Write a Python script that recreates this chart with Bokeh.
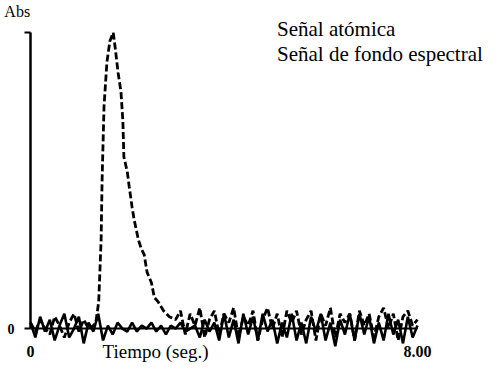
import numpy as np
from bokeh.plotting import figure
from bokeh.models import Label, Legend, LegendItem, FixedTicker, Range1d
from bokeh.embed import file_html
from bokeh.resources import INLINE

# ---- data ----
# atomic signal (Señal atómica): time (s) and absorbance (relative, peak = 1)
atom_t = [round(0.1 * i, 2) for i in range(0, 14)] + \
    [1.35, 1.41, 1.46, 1.48, 1.52, 1.58, 1.64, 1.71, 1.75, 1.81, 1.87, 1.91, 1.93,
     2.0, 2.04, 2.1, 2.14, 2.23, 2.29, 2.35, 2.41, 2.5, 2.56, 2.64, 2.75, 2.87, 3.0] + \
    [round(3.1 + 0.1 * i, 2) for i in range(0, 50)]
atom_v = [0.02, -0.01, 0.03, 0.00, -0.02, 0.04, 0.01, -0.03, 0.02, 0.05, -0.01, 0.03, 0.00, 0.01] + \
    [0.02, 0.09, 0.30, 0.50, 0.75, 0.90, 0.97, 1.00, 0.95, 0.865, 0.80, 0.70, 0.58,
     0.53, 0.48, 0.41, 0.37, 0.30, 0.27, 0.25, 0.19, 0.155, 0.105, 0.09, 0.06, 0.04, 0.03] + \
    [0.06, -0.02, 0.05, 0.01, 0.07, -0.03, 0.03, 0.06, -0.02, 0.05,
     0.02, 0.07, -0.03, 0.04, 0.01, 0.06, -0.04, 0.03, 0.07, 0.00,
     0.05, -0.03, 0.06, 0.02, 0.06, -0.02, 0.03, 0.06, -0.04, 0.05,
     0.01, 0.07, -0.03, 0.05, 0.02, 0.05, -0.04, 0.06, 0.01, 0.05,
     -0.03, 0.04, 0.07, 0.00, 0.05, -0.04, 0.04, 0.06, 0.01, 0.03]

# background signal (Señal de fondo espectral)
bg_t = [round(0.1 * i, 2) for i in range(0, 81)]
bg_v = [0.02, -0.03, 0.04, -0.01, 0.03, -0.04, 0.01, 0.05, -0.03, 0.00,
        0.04, -0.05, 0.02, -0.01, 0.05, -0.04, 0.01, -0.02, 0.02, 0.00,
        -0.01, 0.02, -0.01, 0.01, 0.00, 0.02, -0.01, 0.01, -0.02, 0.01,
        0.00, 0.02, -0.01, 0.00, 0.01, -0.03, 0.03, -0.01, 0.02, -0.04,
        0.05, -0.03, 0.03, -0.05, 0.05, -0.02, 0.04, -0.04, 0.05, -0.01,
        0.03, -0.05, 0.02, -0.03, 0.05, -0.04, 0.02, -0.05, 0.04, -0.01,
        0.05, -0.04, 0.02, -0.06, 0.03, -0.02, 0.05, -0.04, 0.05, -0.02,
        0.04, -0.05, 0.02, -0.04, 0.05, -0.02, 0.03, -0.05, 0.04, -0.03, 0.01]

x_ticks = [0, 8]
x_tick_labels = {0: "0", 8: "8.00"}
y_ticks = [0, 1]
y_tick_labels = {0: "0", 1: ""}
series_names = ["Señal atómica", "Señal de fondo espectral"]

SERIF = "Liberation Serif"

p = figure(width=484, height=363, output_backend="svg", toolbar_location=None,
           x_range=Range1d(-0.62, 9.385), y_range=Range1d(-0.118, 1.108),
           min_border=0)
p.outline_line_color = None
p.grid.visible = False
p.background_fill_color = "white"

# axes placed at the data origin
p.xaxis.fixed_location = 0
p.xaxis.ticker = FixedTicker(ticks=x_ticks)
p.xaxis.major_label_overrides = x_tick_labels
p.xaxis.bounds = (0, 8)
p.xaxis.axis_line_width = 2
p.xaxis.axis_line_color = "black"
p.xaxis.major_tick_line_color = None
p.xaxis.minor_tick_line_color = None
p.xaxis.major_label_standoff = 11
p.xaxis.major_label_text_font = SERIF
p.xaxis.major_label_text_font_style = "bold"
p.xaxis.major_label_text_font_size = "16px"
p.xaxis.major_label_text_color = "black"

p.yaxis.fixed_location = 0
p.yaxis.ticker = FixedTicker(ticks=y_ticks)
p.yaxis.major_label_overrides = y_tick_labels
p.yaxis.bounds = (0, 1)
p.yaxis.axis_line_width = 2.5
p.yaxis.axis_line_color = "black"
p.yaxis.major_tick_out = 6
p.yaxis.major_tick_in = 0
p.yaxis.major_tick_line_width = 2
p.yaxis.major_tick_line_color = "black"
p.yaxis.minor_tick_line_color = None
p.yaxis.major_label_standoff = 10
p.yaxis.major_label_text_font = SERIF
p.yaxis.major_label_text_font_style = "bold"
p.yaxis.major_label_text_font_size = "14px"
p.yaxis.major_label_text_color = "black"

r_bg = p.line(bg_t, bg_v, line_color="black", line_width=2.6)
r_atom = p.line(atom_t, atom_v, line_color="black", line_width=2.8, line_dash="7 3")

legend = Legend(items=[LegendItem(label=series_names[0], renderers=[r_atom]),
                       LegendItem(label=series_names[1], renderers=[r_bg])],
                location=(277, 296), glyph_width=0, glyph_height=21, label_height=21,
                label_standoff=0, spacing=0, padding=0, margin=0,
                label_text_font=SERIF, label_text_font_size="21px", label_text_color="black",
                background_fill_alpha=0, border_line_alpha=0)
p.add_layout(legend, "center")

p.add_layout(Label(x=-0.54, y=1.07, text="Abs", text_font=SERIF, text_font_size="16px",
                   text_baseline="middle", text_align="left", text_color="black"))
p.add_layout(Label(x=1.49, y=-0.078, text="Tiempo (seg.)", text_font=SERIF, text_font_size="19px",
                   text_baseline="middle", text_align="left", text_color="black"))

open("out.html", "w").write(file_html(p, INLINE))
